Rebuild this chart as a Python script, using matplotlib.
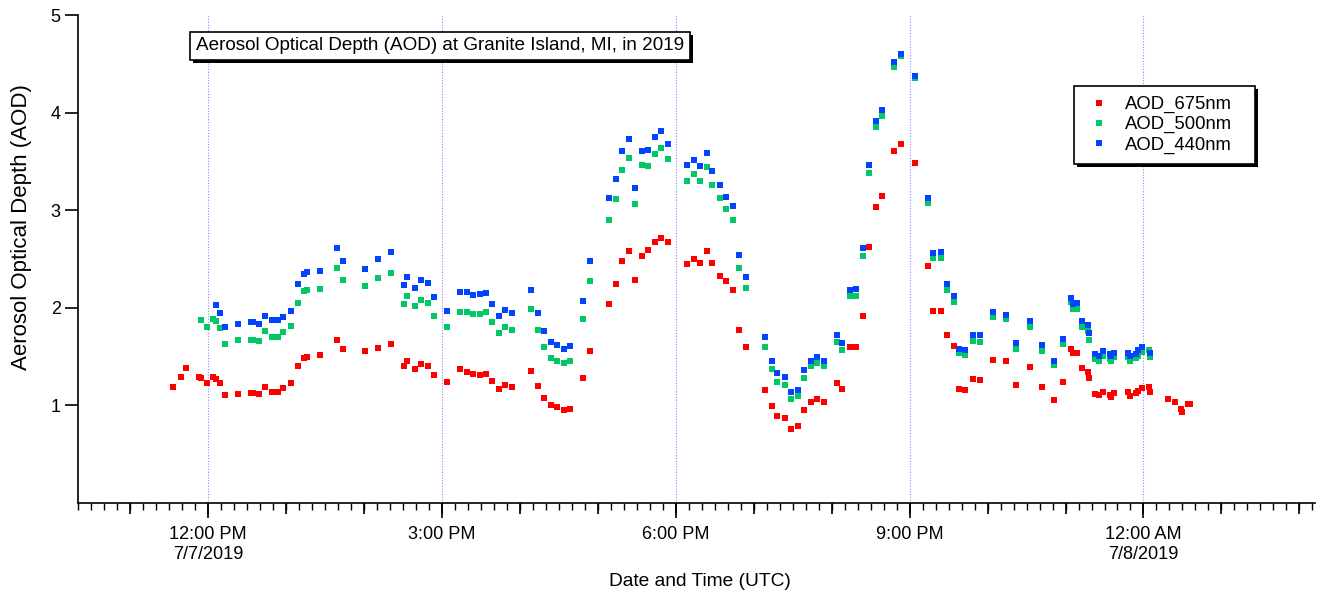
import numpy as np
import pandas as pd
import matplotlib
matplotlib.use("Agg")
import matplotlib.pyplot as plt
import matplotlib.dates as mdates
import matplotlib.patheffects as pe
from matplotlib.ticker import FuncFormatter, NullFormatter

plt.rcParams['font.family'] = ['Liberation Sans', 'DejaVu Sans']

nan = np.nan

times = ["11:33", "11:39", "11:43", "11:53", "11:55", "11:59", "12:04", "12:06", "12:09", "12:13",
         "12:23", "12:33", "12:35", "12:39", "12:44", "12:49", "12:54", "12:58", "13:04", "13:09",
         "13:14", "13:16", "13:26", "13:39", "13:44", "14:01", "14:11", "14:21", "14:31", "14:33",
         "14:39", "14:44", "14:49", "14:54", "15:04", "15:14", "15:19", "15:24", "15:29", "15:34",
         "15:39", "15:44", "15:49", "15:54", "16:09", "16:14", "16:19", "16:24", "16:29", "16:34",
         "16:39", "16:49", "16:54", "17:09", "17:14", "17:19", "17:24", "17:29", "17:34", "17:39",
         "17:44", "17:49", "17:54", "18:09", "18:14", "18:19", "18:24", "18:28", "18:34", "18:39",
         "18:44", "18:49", "18:54", "19:09", "19:14", "19:18", "19:24", "19:29", "19:34", "19:39",
         "19:44", "19:49", "19:54", "20:04", "20:08", "20:14", "20:19", "20:24", "20:29", "20:34",
         "20:39", "20:48", "20:53", "21:04", "21:14", "21:18", "21:24", "21:29", "21:34", "21:38",
         "21:43", "21:49", "21:54", "22:04", "22:14", "22:22", "22:33", "22:42", "22:51", "22:58",
         "23:04", "23:06", "23:09", "23:13", "23:17", "23:18", "23:23", "23:26", "23:29", "23:34",
         "23:35", "23:37", "23:48", "23:50", "23:54", "23:56", "23:59", "00:04", "00:05", "00:19",
         "00:24", "00:29", "00:30", "00:34", "00:36"]

aod_675 = [1.19, 1.29, 1.38, 1.29, 1.28, 1.23, 1.29, 1.27, 1.23, 1.11,
           1.12, 1.13, 1.13, 1.12, 1.19, 1.14, 1.14, 1.18, 1.23, 1.40,
           1.49, 1.50, 1.52, 1.67, 1.58, 1.56, 1.59, 1.63, 1.40, 1.46,
           1.37, 1.42, 1.40, 1.31, 1.24, 1.37, 1.34, 1.32, 1.31, 1.32,
           1.25, 1.17, 1.21, 1.19, 1.35, 1.20, 1.08, 1.00, 0.98, 0.95,
           0.96, 1.28, 1.56, 2.04, 2.24, 2.48, 2.58, 2.28, 2.53, 2.59,
           2.67, 2.72, 2.67, 2.45, 2.50, 2.46, 2.58, 2.46, 2.33, 2.27,
           2.18, 1.77, 1.60, 1.16, 0.99, 0.89, 0.87, 0.76, 0.79, 0.95,
           1.03, 1.07, 1.03, 1.23, 1.17, 1.60, 1.60, 1.92, 2.62, 3.03,
           3.15, 3.61, 3.68, 3.48, 2.43, 1.97, 1.97, 1.72, 1.61, 1.17,
           1.16, 1.27, 1.26, 1.47, 1.46, 1.21, 1.39, 1.19, 1.06, 1.24,
           1.58, 1.54, 1.54, 1.38, 1.34, 1.28, 1.12, 1.11, 1.14, 1.11,
           1.09, 1.13, 1.14, 1.10, 1.13, 1.15, 1.18, 1.19, 1.14, 1.07,
           1.03, 0.96, 0.93, 1.01, 1.01]

aod_500 = [nan, nan, nan, nan, 1.88, 1.80, 1.89, 1.86, 1.79, 1.63,
           1.67, 1.67, 1.67, 1.66, 1.76, 1.70, 1.70, 1.75, 1.81, 2.05,
           2.17, 2.18, 2.19, 2.41, 2.28, 2.22, 2.31, 2.36, 2.04, 2.12,
           2.02, 2.08, 2.05, 1.92, 1.80, 1.96, 1.96, 1.94, 1.94, 1.96,
           1.85, 1.74, 1.80, 1.77, 1.99, 1.77, 1.60, 1.49, 1.46, 1.43,
           1.46, 1.89, 2.27, 2.90, 3.11, 3.41, 3.53, 3.06, 3.46, 3.45,
           3.58, 3.64, 3.52, 3.30, 3.37, 3.30, 3.44, 3.26, 3.13, 3.01,
           2.90, 2.41, 2.20, 1.60, 1.37, 1.24, 1.21, 1.07, 1.10, 1.28,
           1.40, 1.43, 1.40, 1.65, 1.57, 2.12, 2.12, 2.53, 3.38, 3.85,
           3.97, 4.47, 4.58, 4.35, 3.07, 2.51, 2.51, 2.18, 2.06, 1.54,
           1.52, 1.66, 1.65, 1.91, 1.89, 1.58, 1.80, 1.56, 1.41, 1.63,
           2.06, 1.99, 1.99, 1.80, 1.76, 1.67, 1.48, 1.46, 1.51, 1.48,
           1.46, 1.50, 1.50, 1.46, 1.49, 1.51, 1.55, 1.57, 1.50, nan,
           nan, nan, nan, nan, nan]

aod_440 = [nan, nan, nan, nan, nan, nan, nan, 2.03, 1.95, 1.80,
           1.83, 1.85, 1.85, 1.83, 1.92, 1.87, 1.87, 1.91, 1.97, 2.24,
           2.35, 2.37, 2.38, 2.61, 2.48, 2.40, 2.50, 2.57, 2.23, 2.32,
           2.20, 2.28, 2.25, 2.11, 1.97, 2.16, 2.16, 2.13, 2.14, 2.15,
           2.04, 1.92, 1.98, 1.95, 2.18, 1.95, 1.76, 1.65, 1.62, 1.58,
           1.61, 2.07, 2.48, 3.12, 3.32, 3.61, 3.73, 3.23, 3.61, 3.62,
           3.75, 3.81, 3.68, 3.46, 3.51, 3.45, 3.59, 3.40, 3.26, 3.14,
           3.04, 2.54, 2.32, 1.70, 1.46, 1.33, 1.29, 1.14, 1.16, 1.36,
           1.46, 1.50, 1.46, 1.72, 1.64, 2.18, 2.19, 2.61, 3.46, 3.91,
           4.03, 4.52, 4.60, 4.37, 3.12, 2.56, 2.57, 2.24, 2.12, 1.58,
           1.57, 1.72, 1.72, 1.96, 1.93, 1.64, 1.86, 1.62, 1.46, 1.68,
           2.10, 2.04, 2.05, 1.86, 1.82, 1.74, 1.53, 1.51, 1.56, 1.53,
           1.51, 1.54, 1.54, 1.51, 1.53, 1.57, 1.60, nan, 1.54, nan,
           nan, nan, nan, nan, nan]

series_labels = ["AOD_675nm", "AOD_500nm", "AOD_440nm"]
series_colors = ["#ff0000", "#00c864", "#0044ff"]
y_ticks = [1, 2, 3, 4, 5]
title_text = "Aerosol Optical Depth (AOD) at Granite Island, MI, in 2019"

# build datetimes (times before 10:00 belong to the next day)
dt = []
for t in times:
    hh = int(t.split(":")[0])
    day = "2019-07-08" if hh < 10 else "2019-07-07"
    dt.append(pd.Timestamp(f"{day} {t}"))
dt = pd.to_datetime(dt)

W, H = 1317, 599
fig = plt.figure(figsize=(W / 100, H / 100), dpi=100)
ax = fig.add_axes([78 / W, (H - 503) / H, (1315 - 78) / W, (503 - 15) / H])

for vals, lab, col in zip([aod_675, aod_500, aod_440], series_labels, series_colors):
    ax.plot(dt, vals, linestyle="none", marker="s", markersize=4.0,
            markeredgewidth=0, color=col, label=lab)

ax.set_ylim(0, 5)
ax.set_yticks(y_ticks)
ax.set_xlim(pd.Timestamp("2019-07-07 10:20"), pd.Timestamp("2019-07-08 02:12"))

for s in ["top", "right"]:
    ax.spines[s].set_visible(False)
for s in ["left", "bottom"]:
    ax.spines[s].set_linewidth(1.2)

ax.xaxis.set_major_locator(mdates.HourLocator(byhour=range(0, 24, 3)))
ax.xaxis.set_minor_locator(mdates.MinuteLocator(byminute=range(0, 60, 10)))


def fmt(x, pos):
    d = mdates.num2date(x)
    h = d.hour % 12
    if h == 0:
        h = 12
    ampm = "AM" if d.hour < 12 else "PM"
    s = f"{h}:00 {ampm}"
    if d.hour in (0, 12):
        s += f"\n{d.month}/{d.day}/{d.year}"
    return s


ax.xaxis.set_major_formatter(FuncFormatter(fmt))
ax.tick_params(axis="x", which="major", length=10.5, width=1.2, labelsize=13.1, pad=6)
ax.tick_params(axis="x", which="minor", length=5, width=1.0)
ax.tick_params(axis="y", which="major", length=9.5, width=1.2, labelsize=13.1, pad=3)

sec = ax.secondary_xaxis("bottom")
sec.xaxis.set_major_locator(mdates.HourLocator())
sec.xaxis.set_major_formatter(NullFormatter())
sec.tick_params(axis="x", which="major", length=8, width=1.2)
sec.spines["bottom"].set_visible(False)

ax.grid(axis="x", which="major", color="#8a8aff", linestyle=(0, (1, 1.5)), linewidth=0.8)
ax.set_axisbelow(True)

ax.set_xlabel("Date and Time (UTC)", fontsize=13.8)
ax.xaxis.set_label_coords(0.503, -0.143)
ax.set_ylabel("Aerosol Optical Depth (AOD)", fontsize=16.0)
ax.yaxis.set_label_coords(-0.0375, 0.566)

t = fig.text(440 / W, 1 - 46 / H, title_text, ha="center", va="center", fontsize=13.6,
             bbox=dict(boxstyle="square,pad=0.3", facecolor="white", edgecolor="black", linewidth=1.2))
t.get_bbox_patch().set_path_effects([pe.SimplePatchShadow(offset=(2, -2), shadow_rgbFace="black", alpha=1),
                                     pe.Normal()])

leg = ax.legend(loc="upper left", bbox_to_anchor=(1074 / W, 1 - 86 / H, (1255 - 1074) / W, 0),
                bbox_transform=fig.transFigure, mode="expand",
                fontsize=13.3, frameon=True, fancybox=False, framealpha=1, borderpad=0.55,
                handlelength=1.62, handletextpad=0.6, labelspacing=0.16, borderaxespad=0,
                markerscale=1.0)
leg.get_frame().set_edgecolor("black")
leg.get_frame().set_facecolor("white")
leg.get_frame().set_linewidth(1.2)
leg.get_frame().set_path_effects([pe.SimplePatchShadow(offset=(2, -2), shadow_rgbFace="black", alpha=1),
                                  pe.Normal()])

fig.savefig("out.png", dpi=100)
